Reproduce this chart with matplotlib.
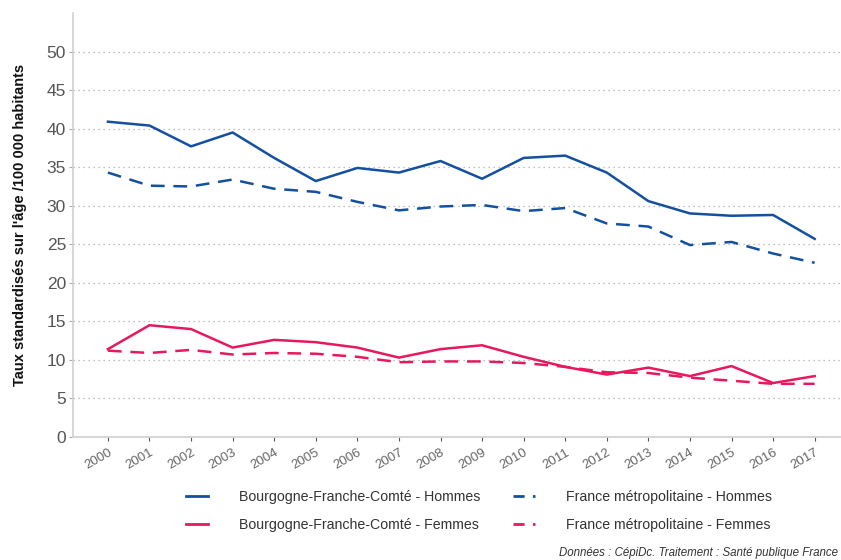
import matplotlib
matplotlib.use("Agg")
import matplotlib.pyplot as plt
from matplotlib.lines import Line2D

plt.rcParams['font.family'] = ['Liberation Sans', 'DejaVu Sans']

years = list(range(2000, 2018))
bfc_hommes = [40.9, 40.4, 37.7, 39.5, 36.2, 33.2, 34.9, 34.3, 35.8, 33.5, 36.2, 36.5, 34.3, 30.6, 29.0, 28.7, 28.8, 25.7]
fr_hommes = [34.3, 32.6, 32.5, 33.4, 32.2, 31.8, 30.5, 29.4, 29.9, 30.1, 29.3, 29.7, 27.7, 27.3, 24.9, 25.3, 23.8, 22.6]
bfc_femmes = [11.4, 14.5, 14.0, 11.6, 12.6, 12.3, 11.6, 10.3, 11.4, 11.9, 10.4, 9.1, 8.1, 9.0, 7.9, 9.2, 7.0, 7.9]
fr_femmes = [11.2, 10.9, 11.3, 10.7, 10.9, 10.8, 10.4, 9.7, 9.8, 9.8, 9.6, 9.1, 8.4, 8.3, 7.7, 7.3, 6.9, 6.9]
yticks = [0, 5, 10, 15, 20, 25, 30, 35, 40, 45, 50]

labels = ["Bourgogne-Franche-Comté - Hommes", "France métropolitaine - Hommes",
          "Bourgogne-Franche-Comté - Femmes", "France métropolitaine - Femmes"]
blue = "#13509F"
pink = "#E8185E"
dash = (0, (5.5, 3.5))

W, H = 841, 560
fig = plt.figure(figsize=(W / 100, H / 100), dpi=100)
ax = fig.add_axes([73 / W, (H - 437) / H, (850 - 73) / W, (437 - 13) / H])

ax.plot(years, bfc_hommes, color=blue, lw=1.8, solid_joinstyle='round')
ax.plot(years, fr_hommes, color=blue, lw=1.8, linestyle=dash)
ax.plot(years, bfc_femmes, color=pink, lw=1.8, solid_joinstyle='round')
ax.plot(years, fr_femmes, color=pink, lw=1.8, linestyle=dash)

ax.set_ylim(0, 55)
ax.set_xlim(1999.16, 2017.85)
ax.set_yticks(yticks)
ax.set_xticks(years)
ax.set_xticklabels([str(y) for y in years], rotation=30, ha='right', rotation_mode='anchor',
                   fontsize=9.5, color='#666666')
ax.tick_params(axis='y', labelsize=12.5, colors='#555555', length=3, width=0.8, pad=2, color='#aaaaaa')
ax.tick_params(axis='x', length=3, width=0.8, color='#555555', pad=4)
for lab in ax.get_yticklabels():
    lab.set_color('#555555')

ax.grid(axis='y', linestyle=(0, (1, 3)), color='#aaaaaa', lw=0.9)
ax.set_axisbelow(True)
for s in ['top', 'right']:
    ax.spines[s].set_visible(False)
ax.spines['left'].set_color('#d0d0d0')
ax.spines['bottom'].set_color('#d0d0d0')
ax.spines['left'].set_linewidth(1.2)
ax.spines['bottom'].set_linewidth(1.2)

fig.text(20 / W, (H - 225) / H, "Taux standardisés sur l'âge /100 000 habitants",
         rotation=90, ha='center', va='center', fontsize=10.5, fontweight='bold', color='#111111')

h_bfc_h = Line2D([], [], color=blue, lw=2)
h_fr_h = Line2D([], [], color=blue, lw=2, linestyle=(0, (4, 3)))
h_bfc_f = Line2D([], [], color=pink, lw=2)
h_fr_f = Line2D([], [], color=pink, lw=2, linestyle=(0, (4, 3)))
handles = [h_bfc_h, h_bfc_f, h_fr_h, h_fr_f]
leg_labels = [labels[0], labels[2], labels[1], labels[3]]
leg = fig.legend(handles, leg_labels, ncol=2, loc='center', bbox_to_anchor=(479 / W, (H - 511) / H),
                 frameon=False, fontsize=10.2, handlelength=1.55, handletextpad=2.2,
                 columnspacing=2.3, labelspacing=1.0)
for t in leg.get_texts():
    t.set_color('#333333')

fig.text(838 / W, (H - 553) / H, "Données : CépiDc. Traitement : Santé publique France",
         ha='right', va='center', fontsize=8.3, style='italic', color='#333333')

fig.savefig("out.png", dpi=100)
